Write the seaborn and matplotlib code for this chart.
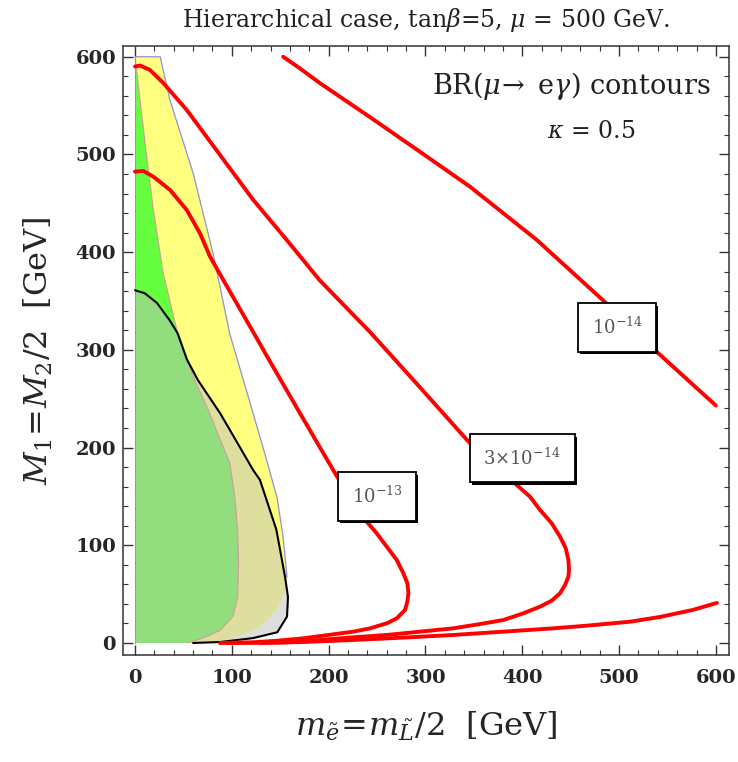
import numpy as np
import pandas as pd
import matplotlib
matplotlib.use("Agg")
import matplotlib.pyplot as plt
import matplotlib.patheffects as pe
import seaborn as sns

# ---------------- data ----------------
# BR(mu -> e gamma) = 1e-14 contour, upper branch
c14u_x = [153, 170.5, 191, 243, 294, 346, 415, 485, 540, 600]
c14u_y = [600, 588, 573, 538, 503, 467, 412.5, 349.3, 297, 243]
# 1e-14 contour, lower branch
c14l_x = [95, 139.5, 174, 225.5, 277, 329, 380.5, 432, 466.6, 511.4, 542, 576, 601]
c14l_y = [0, 0.3, 1, 3.1, 5.5, 8.2, 11.6, 15, 17.7, 21.8, 26.6, 33.8, 41]
# 3e-14 contour
c3_x = [0, 5.2, 15.5, 29.3, 53.4, 87.8, 122.2, 156.7, 191, 243, 294, 346,
        394.3, 408, 418.4, 430.4, 439, 444.9, 447.6, 448.3, 447.6, 444.2, 439, 430.4, 418.4,
        401.2, 380.5, 354.7, 328.8, 294.4, 260, 225.5, 191.1, 156.7, 129]
c3_y = [590, 591, 586.5, 573, 545.6, 499.5, 453.4, 412.5, 371, 318, 262, 204.4,
        161.7, 149.7, 136.1, 122.5, 108.8, 96.9, 85, 74.7, 67.9, 59.4, 50.9, 43.3, 37.2,
        30.4, 23.5, 19.1, 15, 11.6, 8.2, 5.8, 3.1, 0.7, 0]
# 1e-13 contour
c13_x = [0, 8.6, 18.9, 36.2, 53.4, 67.1, 77.5, 91.2, 105, 125.7, 139.5, 170.5, 191.1, 208.3,
         239.3, 249.6, 260, 270.3, 277.2, 281.3, 282.4, 281.3, 278.9, 270.3, 260, 242.8,
         225.5, 199.7, 173.9, 148, 122.2, 87.8]
c13_y = [482.4, 483.1, 477.3, 463.7, 443.2, 419.3, 395.4, 371.5, 347.7, 312, 288, 235,
         200, 171, 124.2, 112.3, 98.6, 85, 71.3, 61.1, 50.9, 42.3, 33.8, 25.2, 20.1, 15,
         11.6, 8.2, 4.8, 2.4, 0.7, 0]

# region boundaries
pink_x = [0, 2, 10, 18.6, 29, 44, 50, 62, 75, 86, 98, 103, 106, 107, 106, 101, 88, 70, 54]
pink_y = [600, 583, 515, 446, 379, 317, 300, 268, 240, 213, 184, 150, 116, 82, 47, 27, 13, 5, 0]
blue_x = [0, 26, 36, 60, 80.6, 98, 117, 132, 146.7, 153, 157]
blue_y = [600, 600, 556, 481, 399, 316, 252, 201, 149, 108.5, 67.5]
khaki_edge_x = [157, 156, 146.7, 129, 105, 80.6, 54]
khaki_edge_y = [67.5, 55, 34, 16, 6, 1, 0]
black_x = [0, 10, 22.7, 36, 44, 53.7, 65, 88, 98, 122, 129, 146, 155, 158, 157, 147, 122, 88, 60]
black_y = [361, 358, 348, 330, 317, 290, 269, 235, 218, 177, 167, 116, 67.5, 47, 27, 11, 5, 1, 0]

labels = [r"$10^{-13}$", r"$3{\times}10^{-14}$", r"$10^{-14}$"]
label_x = [250, 400, 498]
label_y = [150, 189, 323]

xticks = [0, 100, 200, 300, 400, 500, 600]
yticks = [0, 100, 200, 300, 400, 500, 600]

# ---------------- figure ----------------
sns.set_style("ticks")
plt.rcParams["font.family"] = ["DejaVu Serif"]
plt.rcParams["mathtext.fontset"] = "dejavuserif"

fig = plt.figure(figsize=(7.38, 7.62), dpi=100)
ax = fig.add_axes([123 / 738, 1 - 655 / 762, (729 - 123) / 738, (655 - 46) / 762])

# regions
ax.fill([0] + pink_x, [0] + pink_y, color="#66FF40", lw=0, zorder=1)
yel_x = pink_x + khaki_edge_x[::-1][1:] + blue_x[::-1]
yel_y = pink_y + khaki_edge_y[::-1][1:] + blue_y[::-1]
ax.fill(yel_x, yel_y, color="#FFFF80", lw=0, zorder=1)
ax.fill([0] + black_x, [0] + black_y, color="#BFBFBF", alpha=0.5, lw=0, zorder=2)

ax.plot(pink_x, pink_y, color="#D09A9A", lw=0.8, zorder=3)
ax.plot(blue_x, blue_y, color="#9090DD", lw=0.9, zorder=3)
ax.plot([0, 0], [0, 600], color="#999999", lw=0.8, zorder=3)
ax.plot(black_x, black_y, color="black", lw=1.5, zorder=4)

# contours
for xs, ys in [(c14u_x, c14u_y), (c14l_x, c14l_y), (c3_x, c3_y), (c13_x, c13_y)]:
    sns.lineplot(x=xs, y=ys, sort=False, estimator=None, color="red", lw=2.8,
                 ax=ax, zorder=5, solid_joinstyle="round", solid_capstyle="round")

for t, lx, ly in zip(labels, label_x, label_y):
    txt = ax.text(lx, ly, t, ha="center", va="center", fontsize=13, color="#555555", zorder=7,
                  bbox=dict(boxstyle="square,pad=0.75", fc="white", ec="black", lw=1.3))
    txt.get_bbox_patch().set_path_effects(
        [pe.SimplePatchShadow(offset=(1.5, -1.8), shadow_rgbFace="black", alpha=1.0), pe.Normal()])

ax.text(451, 570, r"BR($\mu\!\rightarrow$ e$\gamma$) contours", ha="center", va="center",
        fontsize=19.5, color="#222222", zorder=8)
ax.text(471, 523, r"$\kappa$ = 0.5", ha="center", va="center", fontsize=17,
        color="#222222", zorder=8)

ax.set_xlim(-12.4, 613.5)
ax.set_ylim(-12.3, 611)
ax.set_xticks(xticks)
ax.set_yticks(yticks)
ax.set_xticks(np.arange(0, 601, 20), minor=True)
ax.set_yticks(np.arange(0, 601, 20), minor=True)
ax.tick_params(which="both", direction="in", top=True, right=True, color="#333333")
ax.tick_params(which="major", length=7, width=1.0)
ax.tick_params(which="minor", length=3.5, width=0.8)
ax.tick_params(axis="x", which="major", pad=10, labelsize=14)
ax.tick_params(axis="y", which="major", pad=5, labelsize=14)
for lab in ax.get_xticklabels() + ax.get_yticklabels():
    lab.set_fontweight("bold")
for sp in ax.spines.values():
    sp.set_linewidth(1.1)
    sp.set_color("#333333")

ax.set_xlabel(r"$m_{\tilde{e}}\!=\!m_{\tilde{L}}/2$  [GeV]", fontsize=23)
ax.xaxis.set_label_coords(0.5, -0.09)
ax.set_ylabel(r"$M_1\!=\!M_2/2$  [GeV]", fontsize=23)
ax.yaxis.set_label_coords(-0.112, 0.5)

fig.text(426 / 738, 1 - 20 / 762, r"Hierarchical case, tan$\beta$=5, $\mu$ = 500 GeV.",
         ha="center", va="center", fontsize=17, color="#222222")

fig.savefig("out.png", dpi=100)
